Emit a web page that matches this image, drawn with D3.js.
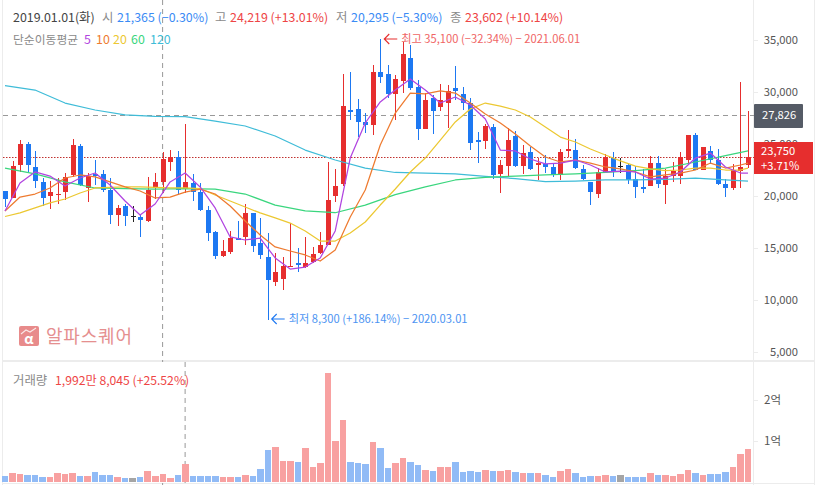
<!DOCTYPE html>
<html><head><meta charset="utf-8">
<script src="https://cdn.jsdelivr.net/npm/d3@7"></script>
<style>html,body{margin:0;padding:0;background:#fff;overflow:hidden}svg{display:block}text{font-family:"Noto Sans CJK KR","Noto Sans",sans-serif}</style>
</head><body><svg id="c" width="819" height="485"></svg>
<script>
// candle values, monthly from 2017.04 (KRW)
const open=[20480,19810,22980,25000,22790,21350,20000,20100,20380,22020,24810,20770,22120,22120,20580,18170,19040,18080,17980,17600,20770,21365,23270,23750,20670,21250,20380,18650,16540,14230,14620,15960,16060,18370,15480,14130,11730,12020,13170,13560,13170,13650,14520,15290,20000,21150,28270,28370,27120,26830,31920,31730,29810,31060,33270,30480,26440,29420,28560,28940,30380,29810,28940,25380,25290,26630,22120,22880,25770,22880,24230,22980,23080,22790,22020,24330,24420,22600,21350,20190,22310,23650,22880,22980,21630,20860,20960,23170,21060,21920,21920,23460,25870,22500,24330,23460,21150,20770,22400,22980];
const high=[20480,23370,25380,25190,24330,21730,21440,21730,22210,25480,25000,22210,23460,22500,21730,19130,19230,19040,18170,21830,22210,24219,24420,24330,26920,22120,21250,19040,16640,15770,16640,17600,19230,18370,17880,16440,14520,14130,17400,15000,16060,15100,16540,23270,22600,31730,31920,29330,27980,32600,35100,32600,31630,34810,34520,31150,29900,29710,30770,30670,32500,30480,29420,26150,26920,26920,23460,26540,26250,24900,24710,23650,23940,23080,24520,26350,25480,22980,21350,22690,24040,24230,23650,23080,22880,22600,23850,23850,22600,23270,24230,25870,26060,24710,24810,24520,21630,23080,30960,28170];
const low=[18940,19810,22310,22310,20770,19040,18750,19230,19620,21830,20960,19420,21060,20380,17310,17120,17120,17500,16060,17500,19710,20295,22400,20190,20290,19520,18560,15670,13940,14130,14420,15770,15290,14620,13940,8100,11350,10960,13170,12690,13080,13560,14420,15290,19420,20960,27310,25670,26060,25870,30870,29420,27310,29900,30190,25380,26440,25960,28170,26540,29230,28270,24420,23170,24520,21630,20290,21920,22790,22120,22500,21540,22210,21830,21540,23750,22600,21540,19130,19810,22310,21830,22210,21150,19810,20290,20960,20770,19230,21350,21150,22980,22500,22500,23080,21060,19900,20580,20770,22690];
const close=[19710,22880,25000,22980,21440,19810,20380,20190,21830,24900,21060,21920,21920,20580,18170,18850,18080,18080,17690,20580,21350,23602,23750,20580,21350,20380,18650,16440,14230,14710,15960,15770,18370,15190,14330,11920,12690,13270,13270,13370,13560,14420,15290,19620,20960,28650,28080,27120,26830,31920,31440,29810,31250,33650,30380,26440,29230,28170,29230,30100,30100,28940,25100,25190,26730,22020,22980,25380,22880,24130,22600,23170,22790,22020,24230,24520,22690,21630,20380,22310,23750,22400,22880,21540,20860,20670,23170,21150,21920,22400,23750,25870,22500,24710,23460,21150,20770,22500,22790,23750];
// volume in units of 10,000 shares
const volume=[1460,2200,1950,1710,1710,1220,1220,2200,1950,2200,1460,1460,2440,1710,1710,1220,980,980,1220,2680,1460,1950,980,1710,4390,1460,1460,1460,1460,1220,1220,1220,1710,1460,3170,7800,8540,5120,5120,4880,8290,3660,4630,26590,10000,15120,4880,4630,4390,9760,8290,3410,4630,5850,4880,4150,2930,2680,3660,3660,4880,2440,2680,2440,2930,2680,2680,2930,2440,2200,2200,2200,1710,1220,2680,3170,2200,1220,1460,1460,1710,1460,1710,1220,1220,1220,2200,1710,1710,1460,1950,2930,2200,1710,1950,1950,2440,3660,6830,8050];
// moving averages
const everyTwo=[0,2,4,6,8,10,12,14,16,18,20,22,24,26,28,30,32,34,36,38,40,42,44,46,48,50,52,54,56,58,60,62,64,66,68,70,72,74,76,78,80,82,84,86,88,90,92,94,96,98,99];
const everyFour=[0,4,8,12,16,20,24,28,32,36,40,44,48,52,56,60,64,68,72,76,80,84,88,92,96,99];
const ma5=[18560,21250,22310,21920,20960,21730,22210,21060,19520,18170,19230,21350,22210,20870,18850,16060,15770,15960,14040,12980,13170,14040,16640,23650,27020,29040,30190,31250,30190,28940,29520,28750,27400,24420,24330,23560,23080,23170,23460,22980,22310,22400,22310,21630,21730,22310,23650,24130,22790,22210,22210];
const ma10=[18560,19900,20190,20770,21730,22020,21830,21350,20870,20480,19810,19900,20380,20670,20190,19040,17600,16250,15100,14710,14330,13750,14810,17980,20580,24900,27980,29900,29810,30100,29900,28940,27880,27020,25960,24810,23750,23270,23460,23170,22790,22600,22310,21830,22020,22210,22500,23170,22690,22980,23170];
const ma20=[18030,18370,18850,19330,19710,20290,20770,20820,20870,20870,20820,20770,20770,20720,20100,19520,18940,18370,17890,17400,16640,15670,15670,16440,17500,19130,20670,22310,23650,25380,27120,28370,28940,28650,28270,27600,26630,25670,25190,24520,23940,23370,22880,22600,22450,22500,22690,22690,22500,22500,22690];
const ma60=[22690,22120,21350,20770,20720,20670,20720,20670,20190,19130,18560,18390,19130,20140,20870,21540,21780,21920,22020,22120,22260,22450,22690,23270,23890,24330];
const ma120=[30620,30190,28940,28270,27790,27650,27630,27210,26730,25770,24420,23460,22690,22260,22210,22120,21880,21680,21390,21440,21540,21540,21590,21730,21540,21440];
const priceTicks=[35000,30000,25000,20000,15000,10000,5000];
const volumeTicks=[10000,20000];
const volumeTickLabels=["1억","2억"];
const crossPrice=27826, lastPrice=23750, crossIndex=21, volMarkIndex=24, highIndex=50, lowIndex=35, highPrice=35100, lowPrice=8300;
const legendNames=["5","10","20","60","120"];

const C={red:"#e62e2e",blue:"#1d78f2",doji:"#222",redV:"#f8a1a1",blueV:"#91bbf6",grayV:"#a5a5a5",line:"#ececec",text:"#555",gray:"#8a8a8a",
 m5:"#b145e0",m10:"#ee7b30",m20:"#ecc832",m60:"#3ad67e",m120:"#3fbcd8"};
const svg=d3.select("#c");
const n=open.length;
const x=d3.scaleLinear().domain([0,n-1]).range([5,748]);
const y=d3.scaleLinear().domain([5000,35000]).range([352,40]);
const yv=d3.scaleLinear().domain([0,20000]).range([482,400]);
const dir=i=>close[i]>open[i]?"up":close[i]<open[i]?"down":"flat";
const col=i=>({up:C.red,down:C.blue,flat:C.doji})[dir(i)];
const colV=i=>({up:C.redV,down:C.blueV,flat:C.grayV})[dir(i)];

// frame
const g0=svg.append("g").attr("stroke",C.line).attr("shape-rendering","crispEdges");
g0.append("line").attr("x1",2.5).attr("x2",2.5).attr("y1",0).attr("y2",485);
g0.append("line").attr("x1",753.5).attr("x2",753.5).attr("y1",0).attr("y2",485);
g0.append("line").attr("x1",814.5).attr("x2",814.5).attr("y1",0).attr("y2",485);
g0.append("line").attr("x1",2).attr("x2",815).attr("y1",361).attr("y2",361).attr("stroke-width",1.5);
g0.append("line").attr("x1",2).attr("x2",815).attr("y1",483.5).attr("y2",483.5).attr("stroke-width",1.5);

// watermark
const wm=svg.append("g").attr("transform","translate(19,326)");
wm.append("rect").attr("width",20).attr("height",20).attr("rx",2).attr("fill","#e88b8b");
wm.append("path").attr("d","M2 8 L7 4 L11 6 L17 2").attr("fill","none").attr("stroke","#fff").attr("stroke-width",1.1).attr("opacity",.8);
wm.append("text").attr("x",10).attr("y",17.5).attr("text-anchor","middle").attr("fill","#fff").attr("font-size",14).attr("font-weight",700).text("α");
svg.append("text").attr("x",46).attr("y",342.5).attr("font-size",18).attr("fill","#e58f8f").attr("letter-spacing",.8).text("알파스퀘어");

// crosshair + reference lines
const dash=svg.append("g").attr("stroke","#999").attr("stroke-dasharray","5 4").attr("fill","none");
dash.append("line").attr("x1",x(crossIndex)).attr("x2",x(crossIndex)).attr("y1",0).attr("y2",362);
dash.append("line").attr("x1",x(crossIndex)).attr("x2",x(crossIndex)).attr("y1",483).attr("y2",485);
dash.append("line").attr("x1",x(volMarkIndex)).attr("x2",x(volMarkIndex)).attr("y1",362).attr("y2",483);
dash.append("line").attr("x1",3).attr("x2",754).attr("y1",Math.round(y(crossPrice))+.5).attr("y2",Math.round(y(crossPrice))+.5).attr("shape-rendering","crispEdges");
svg.append("line").attr("x1",3).attr("x2",754).attr("y1",Math.round(y(lastPrice))+.5).attr("y2",Math.round(y(lastPrice))+.5)
  .attr("stroke","#c0312f").attr("stroke-dasharray","1.5 1.5");

// price axis
const ya=svg.append("g").attr("transform","translate(754,0)").call(d3.axisRight(y).tickValues(priceTicks).tickFormat(d3.format(",")).tickSize(4));
ya.select(".domain").remove();
ya.selectAll("line").attr("stroke",C.line);
ya.selectAll("text").attr("x",44).attr("text-anchor","end").attr("fill",C.text).attr("font-size",11.2).attr("font-family","'Noto Sans','Noto Sans CJK KR',sans-serif");
const va=svg.append("g").attr("transform","translate(754,0)").call(d3.axisRight(yv).tickValues(volumeTicks).tickFormat((d,i)=>volumeTickLabels[i]).tickSize(4));
va.select(".domain").remove();
va.selectAll("line").attr("stroke",C.line);
va.selectAll("text").attr("x",10).attr("fill",C.text).attr("font-size",11.5);

// volume bars
svg.append("g").attr("shape-rendering","crispEdges").selectAll("rect").data(volume).join("rect")
 .attr("x",(d,i)=>Math.round(x(i)-3.1)).attr("width",(d,i)=>Math.round(x(i)+3.4)-Math.round(x(i)-3.1))
 .attr("y",d=>yv(d)).attr("height",d=>yv(0)-yv(d)).attr("fill",(d,i)=>colV(i));

// moving averages and candles
const lineG=svg.append("g").attr("fill","none").attr("stroke-width",1.25).attr("stroke-linejoin","round");
function maLine(idx,vals,c){
  lineG.append("path").datum(vals).attr("stroke",c)
   .attr("d",d3.line().x((d,i)=>x(idx[i])).y(d=>y(d)));
}
const cg=svg.append("g");
cg.selectAll("line").data(d3.range(n)).join("line").attr("shape-rendering","crispEdges")
 .attr("x1",i=>Math.round(x(i))+.5).attr("x2",i=>Math.round(x(i))+.5)
 .attr("y1",i=>y(high[i])).attr("y2",i=>y(low[i])).attr("stroke",col);
cg.selectAll("rect").data(d3.range(n)).join("rect").attr("shape-rendering","crispEdges")
 .attr("x",i=>Math.round(x(i))-2).attr("width",5)
 .attr("y",i=>y(Math.max(open[i],close[i])))
 .attr("height",i=>Math.max(1,Math.abs(y(open[i])-y(close[i]))))
 .attr("fill",col);
svg.node().appendChild(lineG.node());
maLine(everyFour,ma120,C.m120);
maLine(everyFour,ma60,C.m60);
maLine(everyTwo,ma20,C.m20);
maLine(everyTwo,ma10,C.m10);
maLine(everyTwo,ma5,C.m5);

// tags
const tagFont="'Noto Sans',sans-serif";
svg.append("rect").attr("x",754).attr("y",104).attr("width",49).attr("height",24).attr("rx",1).attr("fill","#555b66");
svg.append("text").attr("x",762).attr("y",y(crossPrice)+4.5).attr("fill","#fff").attr("font-size",11.2).attr("font-family",tagFont).text(d3.format(",")(crossPrice));
svg.append("rect").attr("x",754).attr("y",y(lastPrice)-15).attr("width",59).attr("height",32).attr("fill",C.red);
svg.append("text").attr("x",761).attr("y",y(lastPrice)-2).attr("fill","#fff").attr("font-size",11.2).attr("font-family",tagFont).text(d3.format(",")(lastPrice));
svg.append("text").attr("x",761).attr("y",y(lastPrice)+13).attr("fill","#fff").attr("font-size",11.2).attr("font-family",tagFont).text("+3.71%");

// header
const T=(xp,yp,s,c,fs=12.4)=>svg.append("text").attr("x",xp).attr("y",yp).attr("fill",c).attr("font-size",fs).text(s);
const hb=21.5;
T(13,hb,"2019.01.01(화)","#444");
T(102,hb,"시",C.gray);
T(117,hb,"21,365 (−0.30%)","#3b8bf5");
T(215,hb,"고",C.gray);
T(230,hb,"24,219 (+13.01%)","#ee4545");
T(336,hb,"저",C.gray);
T(351,hb,"20,295 (−5.30%)","#3b8bf5");
T(450,hb,"종",C.gray);
T(465,hb,"23,602 (+10.14%)","#ee4545");
const lb=43.5;
T(13,lb,"단순이동평균",C.gray,11.8);
T(84,lb,legendNames[0],C.m5);
T(96,lb,legendNames[1],C.m10);
T(113,lb,legendNames[2],C.m20);
T(131,lb,legendNames[3],C.m60);
T(150,lb,legendNames[4],C.m120);
T(13,385,"거래량",C.gray);
T(55,385,"1,992만 8,045 (+25.52%)","#ee4545",12.2);

// hi/lo annotations
function ann(ix,val,yp,c,tc,s){
  const xa=x(ix)+4;
  svg.append("path").attr("d",`M${xa} ${yp} h13 M${xa+5} ${yp-5} L${xa} ${yp} L${xa+5} ${yp+5}`).attr("fill","none").attr("stroke",c).attr("stroke-width",1.1);
  T(xa+17,yp+4,s,tc,11.2);
}
ann(highIndex,highPrice,39,C.red,"#f06565","최고 35,100 (−32.34%) − 2021.06.01");
ann(lowIndex,lowPrice,319,C.blue,"#4d94f2","최저 8,300 (+186.14%) − 2020.03.01");
</script></body></html>
